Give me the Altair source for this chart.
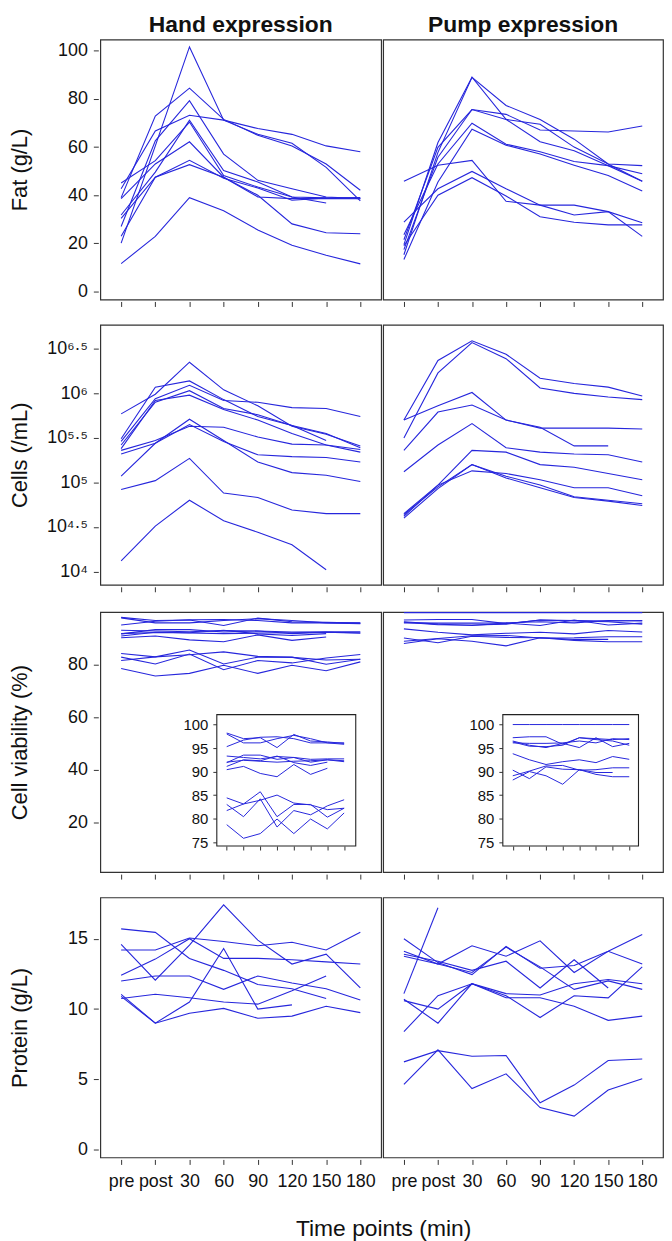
import altair as alt
import pandas as pd

# ---------------- data ----------------
TIME_LABELS = ["pre", "post", "30", "60", "90", "120", "150", "180"]
COLUMN_TITLES = ["Hand expression", "Pump expression"]
X_TITLE = "Time points (min)"

FAT_HAND = [
    [20.1, 60.5, 101.6, 71.2, 65.3, 61.6, 51.6, 37.7],
    [39.0, 72.9, 84.5, 71.5, 64.9, 60.5, 53.0, 42.1],
    [42.7, 66.7, 73.2, 71.2, 67.7, 65.3, 60.5, 58.1],
    [27.0, 62.6, 79.3, 57.1, 46.2, 42.7, 39.3, 38.6],
    [31.8, 49.6, 71.2, 50.3, 45.5, 39.3, 36.8, None],
    [45.1, 54.4, 70.4, 48.2, 43.4, 39.3, 38.9, 39.0],
    [38.6, 53.0, 62.2, 47.5, 39.3, 38.6, 38.6, 38.6],
    [30.4, 47.5, 54.5, 47.1, 43.0, 37.9, 38.9, None],
    [23.0, 47.5, 52.7, 47.5, 40.0, 28.1, 24.4, 24.0],
    [11.6, 22.9, 39.0, 33.6, 25.6, 19.2, 15.1, 11.5],
]
FAT_PUMP = [
    [15.3, 57.8, 89.0, 77.3, 71.5, 63.3, 53.0, 45.8],
    [19.5, 61.9, 89.0, 71.5, 62.2, 58.5, 52.3, 48.9],
    [21.5, 59.9, 75.6, 73.6, 67.1, 66.7, 66.3, 68.8],
    [17.4, 55.8, 75.6, 71.5, 69.5, 60.0, 53.0, 52.3],
    [23.6, 53.0, 69.9, 61.2, 58.1, 54.0, 52.3, 45.8],
    [13.3, 45.5, 67.4, 60.8, 57.1, 52.5, 48.2, 41.8],
    [45.8, 52.5, 54.5, 37.5, 35.9, 35.9, 33.2, 22.9],
    [28.8, 42.7, 49.9, 42.7, 35.9, 31.8, 33.2, 28.6],
    [19.0, 40.0, 47.3, 39.7, 31.1, 28.8, 27.7, 27.7],
]
# cells: log10(cells/mL)
CELLS_HAND = [
    [4.12, 4.51, 4.80, 4.57, 4.44, 4.30, 4.02, None],
    [4.92, 5.02, 5.27, 4.88, 4.83, 4.69, 4.65, 4.65],
    [5.07, 5.44, 5.71, 5.47, 5.23, 5.11, 5.08, 5.01],
    [5.32, 5.44, 5.65, 5.46, 5.31, 5.29, 5.28, 5.23],
    [5.36, 5.47, 5.63, 5.62, 5.51, 5.43, 5.42, 5.34],
    [5.77, 5.99, 6.35, 6.04, 5.86, 5.63, 5.54, 5.41],
    [5.49, 6.07, 6.14, 5.93, 5.74, 5.64, 5.55, 5.39],
    [5.46, 5.94, 6.09, 5.92, 5.90, 5.84, 5.83, 5.74],
    [5.42, 5.90, 6.03, 5.83, 5.76, 5.64, 5.47, None],
    [5.38, 5.92, 5.98, 5.82, 5.70, 5.55, 5.42, 5.37],
]
CELLS_PUMP = [
    [5.70, 6.37, 6.59, 6.44, 6.17, 6.11, 6.07, 5.97],
    [5.50, 6.23, 6.57, 6.39, 6.06, 6.00, 5.96, 5.93],
    [5.70, 5.86, 6.01, 5.70, 5.61, 5.61, 5.61, 5.60],
    [5.36, 5.79, 5.87, 5.70, 5.62, 5.41, 5.41, None],
    [5.12, 5.42, 5.66, 5.39, 5.34, 5.32, 5.31, 5.23],
    [4.65, 4.97, 5.36, 5.34, 5.20, 5.17, 5.10, 5.03],
    [4.64, 4.95, 5.20, 5.05, 4.94, 4.83, 4.79, 4.74],
    [4.62, 4.97, 5.13, 5.10, 5.03, 4.94, 4.94, 4.85],
    [4.60, 4.93, 5.20, 5.07, 4.97, 4.84, 4.80, 4.76],
]
VIAB_HAND = [
    [98.2, 97.0, 97.2, 95.1, 97.9, 96.5, 96.3, 96.0],
    [98.0, 96.1, 96.1, 97.0, 97.7, 97.0, 96.1, 95.8],
    [95.3, 96.7, 97.3, 97.4, 97.0, 96.1, 96.1, 96.1],
    [93.3, 93.0, 92.7, 93.2, 93.0, 92.6, 92.7, 92.7],
    [91.9, 93.5, 93.5, 92.6, 93.0, 92.0, 92.5, 92.3],
    [91.1, 92.5, 92.3, 93.3, 91.9, 91.3, 92.0, None],
    [90.4, 91.1, 89.6, 88.9, 91.5, 89.4, 90.7, None],
    [92.0, 92.4, 92.2, 92.0, 92.2, 92.3, 92.5, 92.1],
    [84.4, 83.1, 83.9, 85.0, 83.3, 82.9, 81.9, 82.2],
    [83.0, 80.4, 84.2, 78.2, 81.7, 80.8, 82.7, 84.0],
    [81.7, 83.1, 85.7, 80.4, 83.0, 83.0, 80.3, 82.2],
    [78.7, 75.8, 76.8, 79.9, 76.8, 79.9, 77.8, 81.2],
]
VIAB_PUMP = [
    [100.0, 100.0, 100.0, 100.0, 100.0, 100.0, 100.0, 100.0],
    [97.2, 97.4, 97.4, 95.8, 97.2, 97.0, 96.8, 97.0],
    [96.5, 95.6, 95.1, 96.0, 95.1, 97.2, 95.3, 96.0],
    [96.3, 95.4, 95.3, 95.6, 97.2, 96.8, 96.5, 95.6],
    [96.1, 96.0, 96.0, 96.1, 96.5, 96.1, 97.0, 96.8],
    [93.8, 92.5, 91.5, 92.1, 92.5, 91.9, 93.2, 92.6],
    [90.3, 88.5, 91.0, 90.5, 90.4, 89.4, 88.9, 88.9],
    [89.1, 90.1, 91.2, 91.3, 90.3, 90.4, 90.8, 90.8],
    [88.2, 90.0, 89.1, 87.3, 90.4, 89.8, 89.8, None],
]
PROT_HAND = [
    [15.7, 15.45, 13.6, 12.75, 11.75, 11.45, 10.75, None],
    [14.6, 12.05, 14.55, 17.4, 14.9, 13.2, 13.9, 11.5],
    [14.2, 14.2, 15.05, 14.8, 14.5, 14.75, 14.2, 15.45],
    [12.4, 13.55, 15.0, 13.6, 13.6, 13.5, 13.35, 13.2],
    [11.05, 9.0, 10.5, 14.3, 10.0, 10.3, None, None],
    [12.0, 12.35, 12.35, 11.4, 12.35, 11.85, 11.45, 10.65],
    [10.9, 9.0, 9.7, 10.05, 9.35, 9.5, 10.2, 9.75],
    [10.75, 11.05, 10.8, 10.5, 10.35, 11.3, 12.35, None],
]
PROT_PUMP = [
    [11.1, 17.2, None, None, None, None, None, None],
    [15.0, 13.3, 12.45, 14.45, 12.9, 13.1, 14.1, 15.3],
    [14.1, 13.2, 14.5, 13.75, 14.85, 12.6, 14.1, 13.2],
    [13.9, 13.4, 12.75, 13.4, 11.5, 13.5, 11.5, None],
    [13.75, 13.2, 12.6, 14.4, 13.0, 11.4, 12.0, 11.4],
    [10.7, 9.0, 11.8, 11.1, 11.0, 11.8, 12.1, 11.8],
    [8.4, 10.95, 11.8, 10.95, 9.4, 10.95, 10.8, 13.0],
    [10.6, 10.0, 11.8, 10.8, 10.8, 10.2, 9.2, 9.5],
    [6.25, 7.05, 6.65, 6.7, 3.35, 4.6, 6.35, 6.45],
    [4.65, 7.1, 4.35, 5.4, 3.0, 2.4, 4.25, 5.05],
]

FAT_TICKS = [0, 20, 40, 60, 80, 100]
CELL_TICKS = [4, 4.5, 5, 5.5, 6, 6.5]
CELL_TICK_LABELS = ["10⁴", "10⁴·⁵", "10⁵", "10⁵·⁵", "10⁶", "10⁶·⁵"]
VIAB_TICKS = [20, 40, 60, 80]
INSET_TICKS = [75, 80, 85, 90, 95, 100]
PROT_TICKS = [0, 5, 10, 15]

# ---------------- layout / style ----------------
FONT = "Liberation Sans, Arial, Helvetica, sans-serif"
LINE_COLOR = "#2626dc"
W_LEFT, W_RIGHT, H = 283, 282, 262
INSET_Y_RANGE = [231.7, 113.3]          # pixel position of 75 and 100
INSET_BOX_Y = [103.3, 235.7]
INSET_BOX_X = [[117.4, 257.4], [120.6, 257.3]]
INSET_TICK_X = [[127.4, 245.7], [130.6, 248.0]]


def make_df(series):
    rows = []
    for i, s in enumerate(series):
        for t, (lab, v) in enumerate(zip(TIME_LABELS, s)):
            if v is not None:
                rows.append({"id": i, "t": t, "time": lab, "value": v})
    return pd.DataFrame(rows)


def label_expr(values, labels):
    expr = "''"
    for v, l in reversed(list(zip(values, labels))):
        expr = f"datum.value == {v} ? '{l}' : ({expr})"
    return expr


ROWS = [
    dict(title="Fat (g/L)", domain=[-3.3, 104.7], ticks=FAT_TICKS, data=[FAT_HAND, FAT_PUMP]),
    dict(title="Cells (/mL)", domain=[3.85, 6.77], ticks=CELL_TICKS, data=[CELLS_HAND, CELLS_PUMP],
         expr=label_expr(CELL_TICKS, CELL_TICK_LABELS)),
    dict(title="Cell viability (%)", domain=[0.9, 100.2], ticks=VIAB_TICKS, data=[VIAB_HAND, VIAB_PUMP],
         inset=True),
    dict(title="Protein (g/L)", domain=[-0.54, 17.93], ticks=PROT_TICKS, data=[PROT_HAND, PROT_PUMP]),
]


def panel(r, spec, side):
    df = make_df(spec["data"][side])
    width = W_LEFT if side == 0 else W_RIGHT
    is_bottom = r == len(ROWS) - 1
    xaxis = alt.Axis(title=None, labels=is_bottom, labelAngle=0, tickSize=5, offset=2,
                     domain=False, grid=False, labelFontSize=18, labelPadding=8,
                     labelFont=FONT, labelColor="#111", tickColor="#333")
    if side == 0:
        ykw = dict(title=spec["title"], values=spec["ticks"], tickSize=5, offset=2, domain=False,
                   grid=False, labelFontSize=18, labelPadding=6, labelFont=FONT,
                   labelColor="#111", tickColor="#333", titleFont=FONT, titleFontSize=22,
                   titleFontWeight="normal", titleColor="#111", titleX=-67, titleY=H / 2,
                   titleBaseline="bottom", titleAngle=270)
        if "expr" in spec:
            ykw["labelExpr"] = spec["expr"]
        yaxis = alt.Axis(**ykw)
    else:
        yaxis = None
    main = alt.Chart(df).mark_line(color=LINE_COLOR, strokeWidth=1.1).encode(
        x=alt.X("time:N", sort=TIME_LABELS, scale=alt.Scale(type="point", padding=0.61), axis=xaxis),
        y=alt.Y("value:Q", scale=alt.Scale(domain=spec["domain"], nice=False, zero=False), axis=yaxis),
        detail="id:N",
        order="t:Q",
    )
    chart = main
    if spec.get("inset"):
        bx = INSET_BOX_X[side]
        tx = INSET_TICK_X[side]
        box = alt.Chart(pd.DataFrame({"a": [0]})).mark_rect(
            fill="white", stroke="#222", strokeWidth=1.1,
            x=bx[0], x2=bx[1], y=INSET_BOX_Y[0], y2=INSET_BOX_Y[1],
        )
        inset = alt.Chart(df).mark_line(color=LINE_COLOR, strokeWidth=1.0).encode(
            x=alt.X("time:N", sort=TIME_LABELS,
                    scale=alt.Scale(type="point", range=tx, padding=0),
                    axis=alt.Axis(orient="bottom", offset=-(H - INSET_BOX_Y[1]), title=None,
                                  labels=False, tickSize=4, domain=False, grid=False,
                                  tickColor="#333")),
            y=alt.Y("value:Q",
                    scale=alt.Scale(domain=[75, 100], range=INSET_Y_RANGE, nice=False, zero=False),
                    axis=alt.Axis(orient="left", offset=-bx[0], values=INSET_TICKS, title=None,
                                  tickSize=4, labelPadding=5, domain=False, grid=False,
                                  labelFontSize=15, labelFont=FONT, labelColor="#111",
                                  tickColor="#333")),
            detail="id:N",
            order="t:Q",
        )
        chart = alt.layer(main, box, inset).resolve_scale(x="independent", y="independent")
    chart = chart.properties(width=width, height=H)
    if r == 0:
        chart = chart.properties(title=alt.TitleParams(
            COLUMN_TITLES[side], fontSize=23, fontWeight="bold", font=FONT, color="#111",
            frame="group", anchor="middle", offset=3))
    return chart


rows = []
for r, spec in enumerate(ROWS):
    rows.append(alt.hconcat(panel(r, spec, 0), panel(r, spec, 1), spacing=0))

chart = alt.vconcat(*rows, spacing=15.5).properties(
    padding=0,
    title=alt.TitleParams(X_TITLE, orient="bottom", anchor="middle", fontSize=23,
                          fontWeight="normal", font=FONT, color="#111", offset=28, dx=48),
).configure_view(stroke="#333", strokeWidth=1.2)

chart.save("out.html", embed_options={"renderer": "svg", "actions": False})
